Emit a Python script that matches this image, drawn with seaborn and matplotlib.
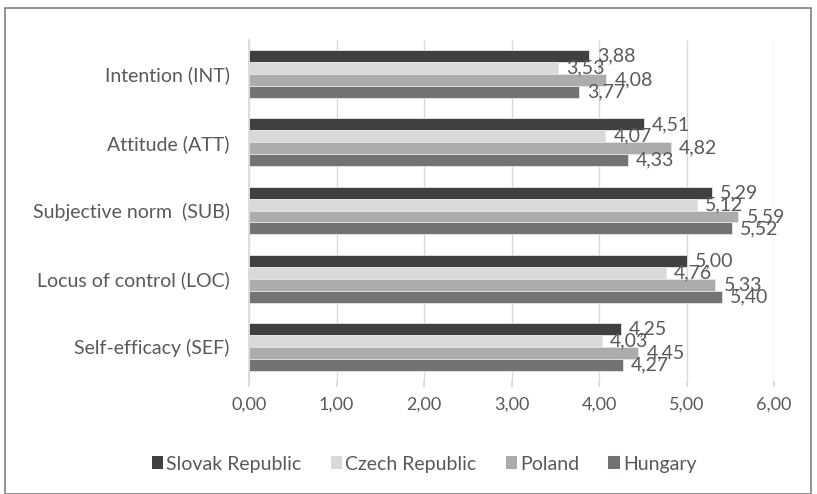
import matplotlib
matplotlib.use("Agg")
import matplotlib.pyplot as plt
import seaborn as sns
import pandas as pd
from matplotlib.patches import Rectangle, Patch

categories = ["Intention (INT)", "Attitude (ATT)", "Subjective norm  (SUB)",
              "Locus of control (LOC)", "Self-efficacy (SEF)"]
countries = ["Slovak Republic", "Czech Republic", "Poland", "Hungary"]
slovak = [3.88, 4.51, 5.29, 5.00, 4.25]
czech = [3.53, 4.07, 5.12, 4.76, 4.03]
poland = [4.08, 4.82, 5.59, 5.33, 4.45]
hungary = [3.77, 4.33, 5.52, 5.40, 4.27]
xticks = [0, 1, 2, 3, 4, 5, 6]
colors = ["#404040", "#d9d9d9", "#aeaaaa", "#767171"]

series = [slovak, czech, poland, hungary]
rows = []
for c, vals in zip(countries, series):
    for cat, v in zip(categories, vals):
        rows.append({"category": cat, "country": c, "value": v})
df = pd.DataFrame(rows)

sns.set_theme(style="white")
plt.rcParams["font.family"] = ["Lato", "DejaVu Sans"]
txt = "#595959"

fig = plt.figure(figsize=(8.17, 4.94), dpi=100)
ax = fig.add_axes([249/817, 1-381/494, (774-249)/817, (381-40)/494])
sns.barplot(data=df, y="category", x="value", hue="country", orient="h",
            palette=colors, hue_order=countries, order=categories,
            width=0.7, edgecolor="#e6e6e6", linewidth=0.6, ax=ax,
            legend=False, errorbar=None)

for cont in ax.containers:
    labels = [f"{v:.2f}".replace(".", ",") for v in cont.datavalues]
    ax.bar_label(cont, labels=labels, padding=6, fontsize=14, color=txt)

ax.set_xlim(0, 6)
ax.set_xticks(xticks)
ax.set_xticklabels([f"{t:.2f}".replace(".", ",") for t in xticks],
                   fontsize=13, color=txt)
ax.tick_params(axis="y", labelsize=14, colors=txt, length=0, pad=14)
ax.tick_params(axis="x", length=4, color="#d9d9d9", bottom=True, pad=7)
ax.set_xlabel("")
ax.set_ylabel("")
ax.grid(axis="x", color="#d9d9d9", linewidth=1)
ax.set_axisbelow(True)
for s in ["top", "right", "bottom"]:
    ax.spines[s].set_visible(False)
ax.spines["left"].set_color("#d9d9d9")

handles = [Patch(facecolor=c, edgecolor="none") for c in colors]
fig.legend(handles, countries, loc="center", bbox_to_anchor=(424/817, 1-464/494),
           ncol=4, frameon=False, fontsize=14, handlelength=0.6, handleheight=0.6,
           handletextpad=0.15, columnspacing=1.5, labelcolor=txt)

fig.patches.append(Rectangle((5/817, 0), 806/817, 1-8/494, transform=fig.transFigure,
                             fill=False, edgecolor="#7f7f7f", linewidth=1.2))

fig.savefig("out.png", dpi=100)
